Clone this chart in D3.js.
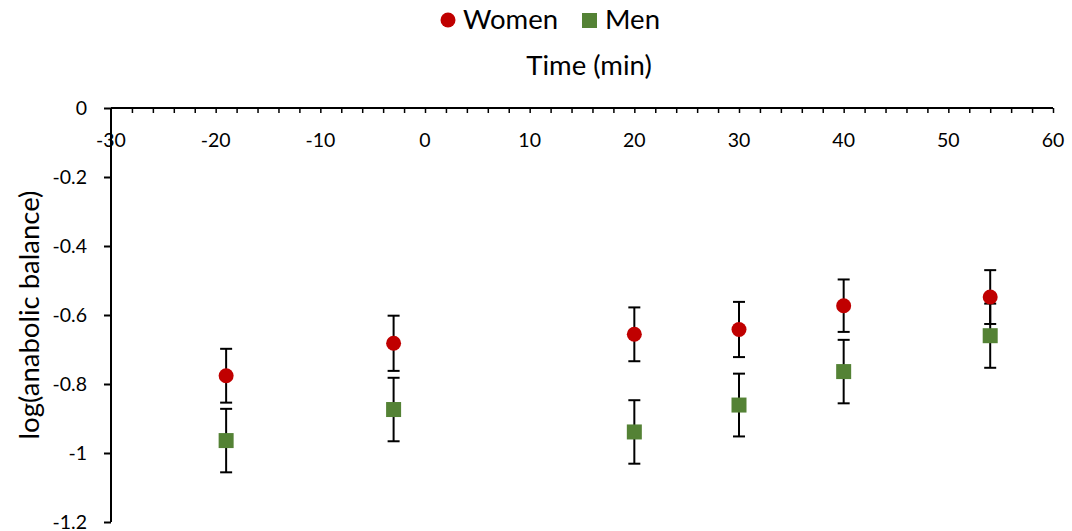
<!DOCTYPE html>
<html>
<head>
<meta charset="utf-8">
<script src="https://cdn.jsdelivr.net/npm/d3@7"></script>
<style>
  html, body { margin: 0; padding: 0; background: #fff; }
  svg { display: block; font-family: Lato, "Open Sans", sans-serif; }
</style>
</head>
<body>
<svg id="chart" width="1072" height="531"></svg>
<script>
// Time points (min) and mean log(anabolic balance) with error bar half-widths
const times = [-19, -3, 20, 30, 40, 54];
const womenValues = [-0.776, -0.682, -0.656, -0.642, -0.573, -0.548];
const womenErrors = [0.078, 0.080, 0.078, 0.080, 0.076, 0.078];
const menValues = [-0.964, -0.874, -0.939, -0.861, -0.764, -0.660];
const menErrors = [0.092, 0.092, 0.092, 0.091, 0.092, 0.093];
const xTicks = [-30, -20, -10, 0, 10, 20, 30, 40, 50, 60];
const yTicks = [0, -0.2, -0.4, -0.6, -0.8, -1, -1.2];
const seriesNames = ["Women", "Men"];

const svg = d3.select("#chart");
const x = d3.scaleLinear().domain([-30, 60]).range([111, 1053]);
const y = d3.scaleLinear().domain([0, -1.2]).range([108, 522]);

const fmt = v => (v === 0 ? "0" : String(+v.toFixed(1)));
const tickFont = 19.5;
const titleFont = 27.5;

// X axis along y = 0, minor ticks every 2 min pointing downward
const xAxisG = svg.append("g").attr("transform", `translate(0,${y(0)})`);
xAxisG.call(d3.axisBottom(x).tickValues(d3.range(-30, 61, 2)).tickSize(5).tickFormat(""));
xAxisG.select(".domain").attr("stroke", "#000").attr("stroke-width", 2).attr("d", `M${x(-30)},0H${x(60)}`);
xAxisG.selectAll(".tick line").attr("stroke", "#000").attr("stroke-width", 1.5);
xAxisG.selectAll(".tick").filter(d => d === -30).remove();

// X tick labels sit below the axis line
svg.append("g").selectAll("text").data(xTicks).join("text")
  .attr("x", d => x(d)).attr("y", 147)
  .attr("text-anchor", "middle")
  .attr("font-size", tickFont).attr("fill", "#000")
  .text(d => d);

// Y axis
const yAxisG = svg.append("g").attr("transform", `translate(${x(-30)},0)`);
yAxisG.call(d3.axisLeft(y).tickValues(yTicks).tickSize(7).tickPadding(17).tickFormat(fmt));
yAxisG.select(".domain").attr("stroke", "#000").attr("stroke-width", 2).attr("d", `M0,${y(0)}V${y(-1.2)}`);
yAxisG.selectAll(".tick line").attr("stroke", "#000").attr("stroke-width", 2);
yAxisG.selectAll(".tick text").attr("font-size", tickFont).attr("fill", "#000")
  .attr("font-family", "Lato, 'Open Sans', sans-serif");

// Axis titles
svg.append("text").attr("x", 589).attr("y", 75).attr("text-anchor", "middle")
  .attr("font-size", titleFont).attr("fill", "#000").text("Time (min)");
svg.append("text").attr("transform", "translate(39,315) rotate(-90)").attr("text-anchor", "middle")
  .attr("font-size", titleFont).attr("fill", "#000").text("log(anabolic balance)");

const series = [
  { name: seriesNames[0], values: womenValues, errors: womenErrors, color: "#C00000", shape: "circle" },
  { name: seriesNames[1], values: menValues, errors: menErrors, color: "#548235", shape: "square" }
];

// Error bars first, markers on top
const capHalf = 6;
series.forEach(s => {
  const g = svg.append("g").attr("stroke", "#000").attr("stroke-width", 2);
  times.forEach((t, i) => {
    const cx = x(t), hi = y(s.values[i] + s.errors[i]), lo = y(s.values[i] - s.errors[i]);
    g.append("line").attr("x1", cx).attr("x2", cx).attr("y1", hi).attr("y2", lo);
    g.append("line").attr("x1", cx - capHalf).attr("x2", cx + capHalf).attr("y1", hi).attr("y2", hi);
    g.append("line").attr("x1", cx - capHalf).attr("x2", cx + capHalf).attr("y1", lo).attr("y2", lo);
  });
});

const markerSize = 15;
[series[1], series[0]].forEach(s => {
  const g = svg.append("g");
  times.forEach((t, i) => {
    if (s.shape === "circle") {
      g.append("circle").attr("cx", x(t)).attr("cy", y(s.values[i])).attr("r", markerSize / 2).attr("fill", s.color);
    } else {
      g.append("rect").attr("x", x(t) - markerSize / 2).attr("y", y(s.values[i]) - markerSize / 2)
        .attr("width", markerSize).attr("height", markerSize).attr("fill", s.color);
    }
  });
});

// Legend
const legend = svg.append("g");
legend.append("circle").attr("cx", 448).attr("cy", 20).attr("r", 7.5).attr("fill", series[0].color);
legend.append("text").attr("x", 463).attr("y", 29).attr("font-size", titleFont).attr("fill", "#000").text(series[0].name);
legend.append("rect").attr("x", 582).attr("y", 13).attr("width", 15).attr("height", 15).attr("fill", series[1].color);
legend.append("text").attr("x", 605).attr("y", 29).attr("font-size", titleFont).attr("fill", "#000").text(series[1].name);
</script>
</body>
</html>
